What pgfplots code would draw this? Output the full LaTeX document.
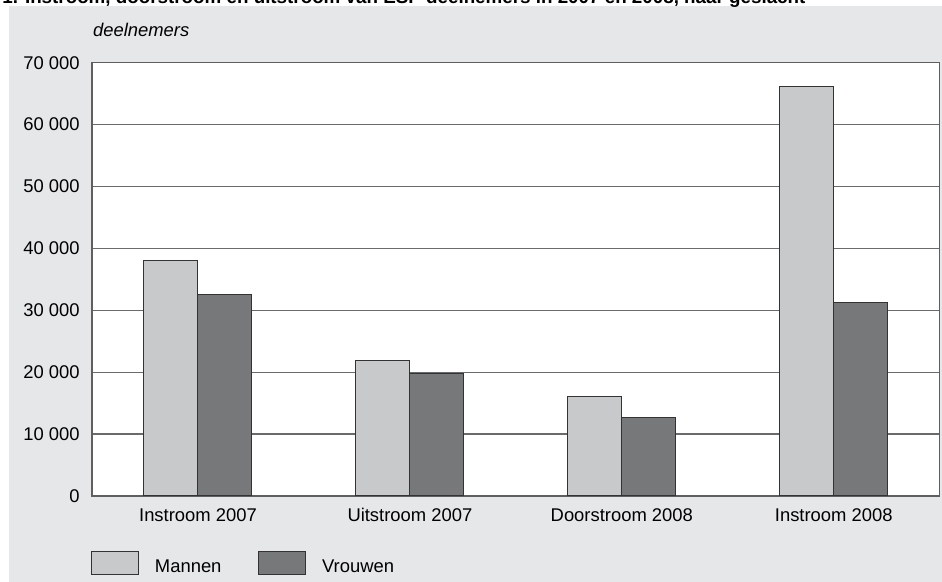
\documentclass[border=0pt]{standalone}
\usepackage{pgfplots}
\pgfplotsset{compat=1.18}
\usepackage{fontspec}
\setmainfont{Liberation Sans}
\definecolor{bggray}{HTML}{E6E7E9}
\definecolor{mannen}{HTML}{C8C9CB}
\definecolor{vrouwen}{HTML}{77787A}
\definecolor{gridc}{HTML}{6A6A6A}
\begin{document}
\begin{tikzpicture}[font=\fontsize{9.2pt}{11pt}\selectfont]
\useasboundingbox (-46pt,-43pt) rectangle (425pt,248pt);
\fill[bggray] (-41.5pt,-43pt) rectangle (425pt,245pt);
\node[anchor=base west, inner sep=0pt, font=\fontsize{9.4pt}{11pt}\selectfont\bfseries]
  at (-45pt,246.25pt) {1. Instroom, doorstroom en uitstroom van ESF-deelnemers in 2007 en 2008, naar geslacht};
\node[anchor=base west, inner sep=0pt, font=\fontsize{9.2pt}{11pt}\selectfont\itshape]
  at (0.35pt,229.75pt) {deelnemers};
\begin{axis}[
    scale only axis,
    width=423.85pt,
    height=216.65pt,
    ybar=0pt,
    bar width=27pt,
    xmin=-0.5, xmax=3.5,
    ymin=0, ymax=70000,
    xtick={0,1,2,3},
    xticklabels={Instroom 2007,Uitstroom 2007,Doorstroom 2008,Instroom 2008},
    ytick={0,10000,20000,30000,40000,50000,60000,70000},
    yticklabels={0,10 000,20 000,30 000,40 000,50 000,60 000,70 000},
    scaled y ticks=false,
    major tick length=0pt,
    ymajorgrids,
    major grid style={draw=gridc, line width=0.6pt},
    axis line style={draw=gridc!90!black, line width=0.6pt},
    axis background/.style={fill=white},
    yticklabel style={inner sep=0pt, xshift=-6pt},
    xticklabel style={inner sep=0pt, yshift=-6pt},
    legend columns=2,
    legend image code/.code={\draw[#1] (0pt,-3.175pt) rectangle (23.35pt,8.175pt);},
    legend style={at={(rel axis cs:0,0)}, anchor=north west, xshift=-0.5pt, yshift=-27.5pt,
      draw=none, fill=none, inner sep=0pt, outer sep=0pt,
      nodes={inner sep=0pt},
      /tikz/every odd column/.style={column sep=8.15pt},
      /tikz/every even column/.style={column sep=18.3pt}},
    legend cell align=left,
]
\addplot[fill=mannen, draw=black!80, line width=0.5pt, bar shift=-13.5pt]
  coordinates {(0,38000) (1,21900) (2,16000) (3,66100)};
\addplot[fill=vrouwen, draw=black!80, line width=0.5pt, bar shift=13.5pt]
  coordinates {(0,32600) (1,19800) (2,12700) (3,31200)};
\legend{Mannen,Vrouwen}
\end{axis}
\end{tikzpicture}
\end{document}
